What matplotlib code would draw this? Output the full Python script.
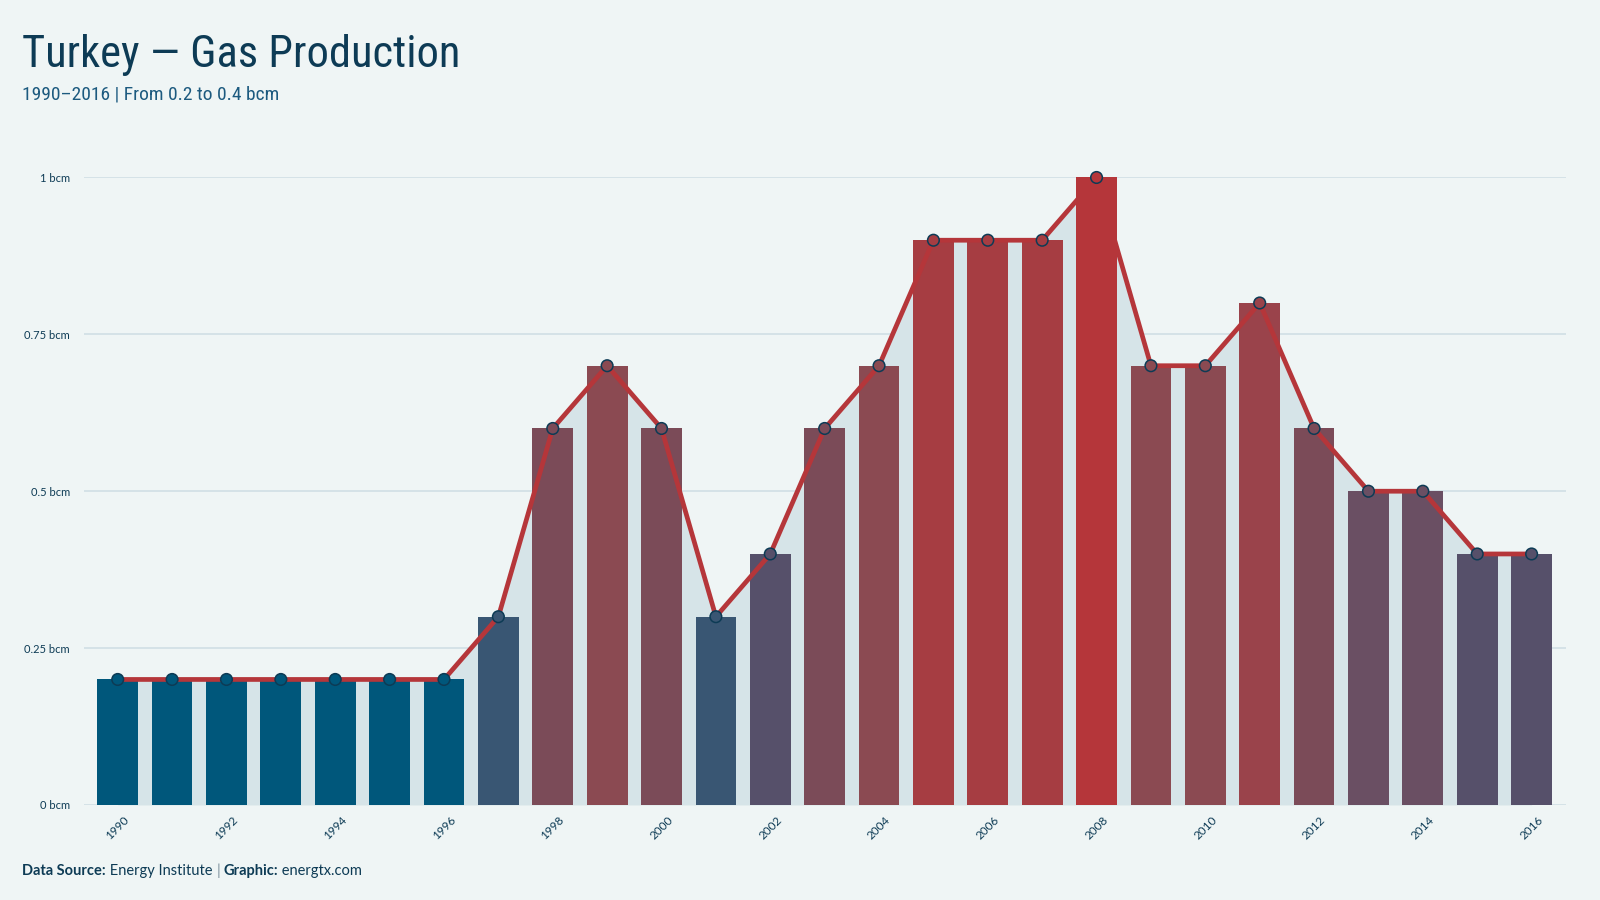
import matplotlib
matplotlib.use("Agg")
import matplotlib.pyplot as plt
import numpy as np
from matplotlib import font_manager as fm
from matplotlib.colors import LinearSegmentedColormap

# ---- data ----
years = list(range(1990, 2017))
values = [0.2, 0.2, 0.2, 0.2, 0.2, 0.2, 0.2, 0.3, 0.6, 0.7, 0.6, 0.3, 0.4, 0.6, 0.7,
          0.9, 0.9, 0.9, 1.0, 0.7, 0.7, 0.8, 0.6, 0.5, 0.5, 0.4, 0.4]
ytick_vals = [0, 0.25, 0.5, 0.75, 1.0]
ytick_labels = ["0 bcm", "0.25 bcm", "0.5 bcm", "0.75 bcm", "1 bcm"]
xtick_years = list(range(1990, 2017, 2))
title = "Turkey \u2014 Gas Production"
subtitle = "1990\u20132016 | From 0.2 to 0.4 bcm"

# colour scale anchors (value -> colour)
anchor_vals = [0.2, 0.3, 0.4, 0.5, 0.6, 0.7, 0.8, 0.9, 1.0]
anchor_cols = ["#00577b", "#3b5673", "#56506a", "#6a4f63", "#7b4b58", "#8b4a52",
               "#9a434b", "#a63d42", "#b5363a"]

BG = "#eff5f5"
DARK = "#0d3b55"
GRID = "#d3e1e6"
AREA = "#d6e4e8"
LINE = "#b5363a"

# ---- fonts ----
def is_regular(f):
    return f.style == "normal" and f.weight in (400, "normal", "regular")

def find_condensed():
    prefs = ["Ubuntu Condensed", "Roboto Condensed", "Open Sans Condensed",
             "Liberation Sans Narrow", "Noto Sans Condensed"]
    for p in prefs:
        for f in fm.fontManager.ttflist:
            if f.name == p and is_regular(f):
                return fm.FontProperties(fname=f.fname)
    for f in fm.fontManager.ttflist:
        st = str(f.stretch)
        if (st in ("condensed", "semi-condensed", "extra-condensed") or
                (isinstance(f.stretch, int) and f.stretch < 500)) and is_regular(f):
            return fm.FontProperties(fname=f.fname)
    return fm.FontProperties(family="DejaVu Sans")

cond_fp = find_condensed()
plt.rcParams["font.family"] = ["Lato", "DejaVu Sans"]

fig = plt.figure(figsize=(16, 9), dpi=100, facecolor=BG)
ax = fig.add_axes([0.0525, 0.1056, 0.9265, 0.6972])
ax.set_facecolor(BG)

x = np.arange(len(years))
cmap_pos = [(v - anchor_vals[0]) / (anchor_vals[-1] - anchor_vals[0]) for v in anchor_vals]
cmap = LinearSegmentedColormap.from_list("gas", list(zip(cmap_pos, anchor_cols)))
cols = [cmap((v - anchor_vals[0]) / (anchor_vals[-1] - anchor_vals[0])) for v in values]

for yv in ytick_vals:
    ax.axhline(yv, color=GRID, lw=1.3, zorder=0)

ax.fill_between(x, 0, values, color=AREA, zorder=1, lw=0)
ax.bar(x, values, width=0.75, color=cols, zorder=2, lw=0)
ax.plot(x, values, color=LINE, lw=3.4, zorder=3, solid_joinstyle="miter")
ax.scatter(x, values, s=70, c=cols, edgecolors=DARK, linewidths=1.1, zorder=4, clip_on=False)

ax.set_xlim(-0.62, len(years) - 1 + 0.64)
ax.set_ylim(0, 1.0)
ax.set_yticks(ytick_vals)
ax.set_yticklabels(ytick_labels, fontsize=8, color=DARK)
ax.set_xticks([years.index(y) for y in xtick_years])
ax.set_xticklabels([str(y) for y in xtick_years], rotation=45, fontsize=8.5, color=DARK,
                   ha="center", va="top")
ax.tick_params(axis="both", length=0, pad=10)
ax.tick_params(axis="x", pad=7)
for s in ax.spines.values():
    s.set_visible(False)

# titles
fig.text(0.014, 0.925, title, fontproperties=cond_fp, fontsize=32, color=DARK,
         ha="left", va="baseline")
fig.text(0.014, 0.89, subtitle, fontproperties=cond_fp, fontsize=14, color="#1c5a7f",
         ha="left", va="baseline")

# footer
fig.canvas.draw()
renderer = fig.canvas.get_renderer()
parts = [("Data Source:", "bold"), (" Energy Institute ", "normal"), ("|", "normal"),
         (" ", "normal"), ("Graphic:", "bold"), (" energtx.com", "normal")]
xpos = 0.014
for txt, w in parts:
    color = "#7a8e9a" if txt == "|" else DARK
    t = fig.text(xpos, 0.0275, txt, fontsize=10.5, fontweight=w, color=color,
                 ha="left", va="baseline")
    bb = t.get_window_extent(renderer=renderer)
    xpos += bb.width / fig.bbox.width

fig.savefig("out.png", dpi=100, facecolor=BG)
